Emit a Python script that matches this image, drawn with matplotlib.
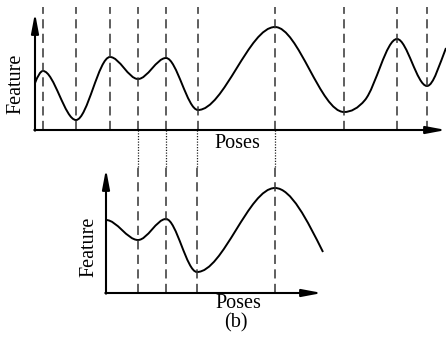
import matplotlib
matplotlib.use("Agg")
import matplotlib.pyplot as plt
from matplotlib.path import Path
from matplotlib.patches import PathPatch

# top panel: knots of the feature curve (pose, feature, slope)
top_pose = [0, 8, 41, 75, 103, 131, 163, 240, 309, 330, 362, 392, 411]
top_feat = [47, 59, 10, 73, 51, 72, 20, 103, 18, 30, 91, 44, 82]
top_slope = [2.5, 0, 0, 0, 0, 0, 0, 0, 0, 1.2, 0, 0, 2.5]
top_marks = [8, 41, 75, 103, 131, 163, 240, 309, 362, 392]

# bottom panel: the window around the selected poses
bot_pose = [0, 32, 60, 91, 169, 217]
bot_feat = [73, 53, 74, 21, 105, 41]
bot_slope = [0, 0, 0, 0, 0, -2.0]
bot_marks = [32, 60, 91, 169]

# panel origins in figure pixels, axis lengths
TOP_O = (35, 130)
TOP_LEN = (411, 117)
BOT_O = (106, 293)
BOT_LEN = (216, 124)


def curve_path(xs, ys, slopes, origin):
    x0, y0 = origin
    verts = [(x0 + xs[0], y0 - ys[0])]
    codes = [Path.MOVETO]
    for i in range(len(xs) - 1):
        dx = xs[i + 1] - xs[i]
        c1 = (xs[i] + dx / 3, ys[i] + slopes[i] * dx / 3)
        c2 = (xs[i + 1] - dx / 3, ys[i + 1] - slopes[i + 1] * dx / 3)
        for px, py in (c1, c2, (xs[i + 1], ys[i + 1])):
            verts.append((x0 + px, y0 - py))
            codes.append(Path.CURVE4)
    return Path(verts, codes)


def axes_arrows(ax, origin, length):
    x0, y0 = origin
    props = dict(arrowstyle="-|>,head_length=0.9,head_width=0.17",
                 lw=1.5, color="black", mutation_scale=13,
                 shrinkA=0, shrinkB=0)
    ax.annotate("", xy=(x0 + length[0], y0), xytext=(x0 - 0.7, y0),
                arrowprops=props)
    ax.annotate("", xy=(x0, y0 - length[1]), xytext=(x0, y0 + 0.7),
                arrowprops=props)


fig = plt.figure(figsize=(4.46, 3.38), dpi=100)
ax = fig.add_axes([0, 0, 1, 1])
ax.set_xlim(0, 446)
ax.set_ylim(338, 0)
ax.axis("off")

dash = dict(color="#333333", lw=1.1, linestyle=(0, (6, 3.5)))

# top panel
for p in top_marks:
    ax.plot([TOP_O[0] + p] * 2, [TOP_O[1], 7], **dash)
ax.add_patch(PathPatch(curve_path(top_pose, top_feat, top_slope, TOP_O),
                       fill=False, lw=1.4, color="black"))
axes_arrows(ax, TOP_O, TOP_LEN)

# dotted links between panels and bottom dashed lines
for p in bot_marks:
    x = BOT_O[0] + p
    ax.plot([x, x], [TOP_O[1], 167], color="#222222", lw=0.9,
            linestyle=(0, (1, 1.2)))
    ax.plot([x, x], [BOT_O[1], 167], **dash)

ax.add_patch(PathPatch(curve_path(bot_pose, bot_feat, bot_slope, BOT_O),
                       fill=False, lw=1.4, color="black"))
axes_arrows(ax, BOT_O, BOT_LEN)

font = dict(family="Liberation Serif", fontsize=14.5, color="black")
ax.text(16, 84, "Feature", rotation=90, ha="center", va="center", **font)
ax.text(237, 143, "Poses", ha="center", va="center", **font)
ax.text(89, 247, "Feature", rotation=90, ha="center", va="center", **font)
ax.text(238, 303, "Poses", ha="center", va="center", **font)
ax.text(236, 323, "(b)", ha="center", va="center", **font)

fig.savefig("out.png", dpi=100)
